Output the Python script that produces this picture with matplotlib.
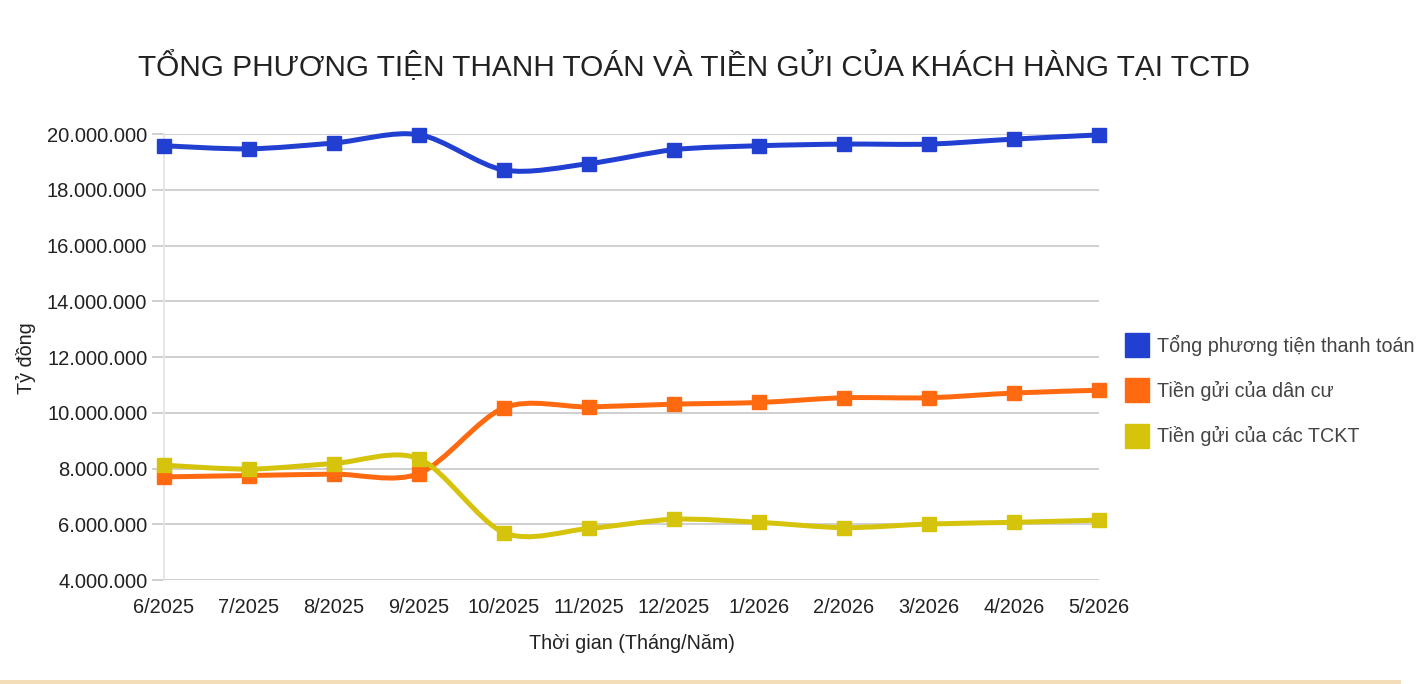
import matplotlib.pyplot as plt
from matplotlib.path import Path
from matplotlib.patches import PathPatch, Rectangle
from matplotlib.lines import Line2D
from matplotlib.ticker import FuncFormatter

plt.rcParams['font.family'] = ['Liberation Sans', 'DejaVu Sans']

# Data (ty dong)
months = ['6/2025', '7/2025', '8/2025', '9/2025', '10/2025', '11/2025',
          '12/2025', '1/2026', '2/2026', '3/2026', '4/2026', '5/2026']
tong_ptt = [19.58, 19.47, 19.68, 19.98, 18.71, 18.94,
            19.44, 19.58, 19.64, 19.64, 19.82, 19.97]
tg_dan_cu = [7.70, 7.75, 7.80, 7.82, 10.18, 10.21,
             10.31, 10.37, 10.54, 10.54, 10.71, 10.81]
tg_tckt = [8.12, 7.98, 8.18, 8.35, 5.70, 5.85,
           6.18, 6.07, 5.88, 6.01, 6.07, 6.15]

series = [
    ('Tổng phương tiện thanh toán', tong_ptt, '#2140d2'),
    ('Tiền gửi của dân cư', tg_dan_cu, '#ff6a10'),
    ('Tiền gửi của các TCKT', tg_tckt, '#d5c30c'),
]


def smooth_path(xs, ys, k=0.15):
    # cubic bezier through the points (catmull-rom style control points)
    verts = [(xs[0], ys[0])]
    codes = [Path.MOVETO]
    n = len(xs)
    for i in range(n - 1):
        x0, y0 = (xs[i - 1], ys[i - 1]) if i > 0 else (xs[i], ys[i])
        x1, y1 = xs[i], ys[i]
        x2, y2 = xs[i + 1], ys[i + 1]
        x3, y3 = (xs[i + 2], ys[i + 2]) if i + 2 < n else (x2, y2)
        c1 = (x1 + (x2 - x0) * k, y1 + (y2 - y0) * k)
        c2 = (x2 - (x3 - x1) * k, y2 - (y3 - y1) * k)
        verts += [c1, c2, (x2, y2)]
        codes += [Path.CURVE4] * 3
    return Path(verts, codes)


fig = plt.figure(figsize=(14.22, 6.84), dpi=100)
ax = fig.add_axes([0.1153, 0.152, 0.6576, 0.652])

x = list(range(len(months)))
for name, vals, color in series:
    ys = [v * 1e6 for v in vals]
    ax.add_patch(PathPatch(smooth_path(x, ys), facecolor='none', edgecolor=color,
                           lw=3.6, capstyle='round', joinstyle='round',
                           clip_on=False, zorder=3))
    ax.plot(x, ys, linestyle='none', marker='s', markersize=9.5, color=color,
            clip_on=False, zorder=4)

ax.set_xlim(0, len(months) - 1)
ax.set_ylim(4e6, 20e6)
ax.set_yticks([4e6 + 2e6 * i for i in range(9)])
ax.yaxis.set_major_formatter(FuncFormatter(lambda v, p: f'{v:,.0f}'.replace(',', '.')))
ax.set_xticks(x)
ax.set_xticklabels(months)

ax.grid(axis='y', color='#cccccc', lw=1.3)
ax.set_axisbelow(True)
for s in ['top', 'right', 'bottom']:
    ax.spines[s].set_visible(False)
ax.spines['left'].set_color('#e4e4e4')
ax.spines['left'].set_linewidth(1.3)
ax.tick_params(axis='y', length=9, color='#cccccc', width=1.3, pad=3,
               labelsize=14.5, labelcolor='#222222')
ax.tick_params(axis='x', length=0, pad=13, labelsize=14.4, labelcolor='#222222')

ax.set_xlabel('Thời gian (Tháng/Năm)', fontsize=14.2, color='#222222', labelpad=12)
fig.text(0.0185, 0.477, 'Tỷ đồng', rotation=90, fontsize=14.2, color='#222222',
         ha='center', va='center')

fig.text(0.488, 0.9035, 'TỔNG PHƯƠNG TIỆN THANH TOÁN VÀ TIỀN GỬI CỦA KHÁCH HÀNG TẠI TCTD',
         fontsize=21.4, color='#222222', ha='center', va='center')

handles = [Line2D([], [], linestyle='none', marker='s', markersize=17, color=c)
           for _, _, c in series]
fig.legend(handles, [n for n, _, _ in series], loc='upper left',
           bbox_to_anchor=(0.7885, 0.51), frameon=False, fontsize=14.2,
           labelcolor='#444444', labelspacing=1.27, handletextpad=0.2,
           handlelength=1.6, borderaxespad=0, borderpad=0)

fig.patches.append(Rectangle((0.0, 0.0), 0.985, 0.006, transform=fig.transFigure,
                             facecolor='#f2ddb8', edgecolor='none'))

fig.savefig('out.png', dpi=100)
